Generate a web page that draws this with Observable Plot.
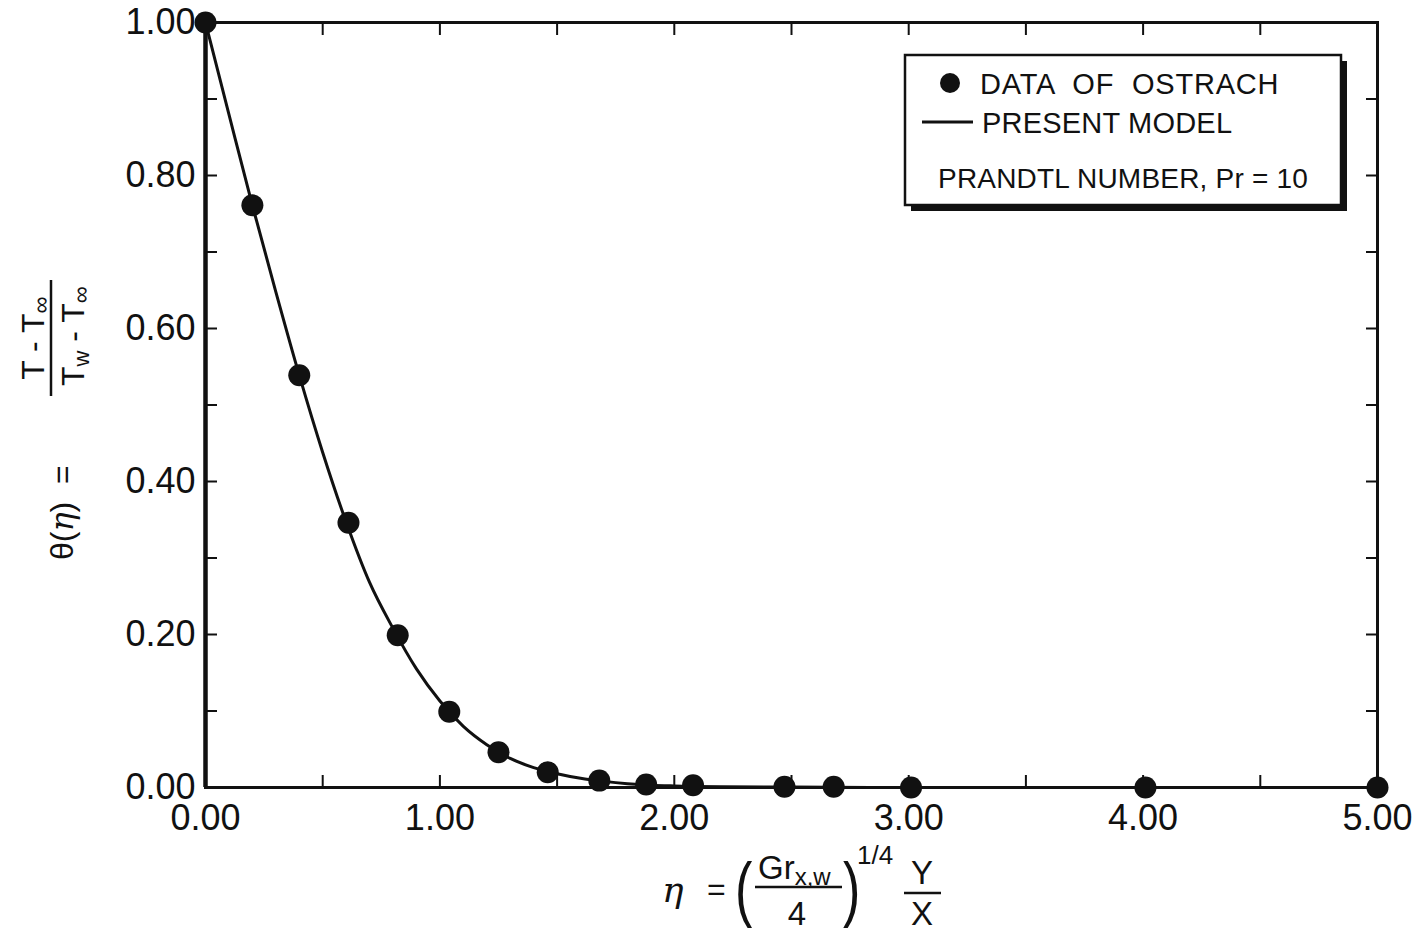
<!DOCTYPE html>
<html>
<head>
<meta charset="utf-8">
<script src="https://cdn.jsdelivr.net/npm/d3@7"></script>
<script src="https://cdn.jsdelivr.net/npm/@observablehq/plot@0.6"></script>
<style>
  html, body { margin: 0; padding: 0; background: #ffffff; }
  #chart { width: 1420px; height: 934px; }
</style>
</head>
<body>
<div id="chart"></div>
<script>
// ---- data ----
const etaData   = [0.00, 0.20, 0.40, 0.61, 0.82, 1.04, 1.25, 1.46, 1.68, 1.88, 2.08, 2.47, 2.68, 3.01, 4.01, 5.00];
const thetaData = [1.000, 0.761, 0.539, 0.346, 0.199, 0.099, 0.046, 0.020, 0.009, 0.004, 0.003, 0.001, 0.001, 0.000, 0.000, 0.000];

const etaModel   = [0.0, 0.1, 0.2, 0.3, 0.4, 0.5, 0.6, 0.7, 0.8, 0.9, 1.0, 1.1, 1.2, 1.3, 1.4, 1.5, 1.6, 1.7, 1.8, 1.9, 2.0, 2.2, 2.5, 3.0, 4.0, 5.0];
const thetaModel = [1.000, 0.880, 0.761, 0.648, 0.539, 0.438, 0.347, 0.268, 0.208, 0.155, 0.113, 0.080, 0.056, 0.038, 0.026, 0.018, 0.012, 0.008, 0.005, 0.003, 0.002, 0.001, 0.0005, 0.0, 0.0, 0.0];

const xLabelTicks = [0, 1, 2, 3, 4, 5];
const xMinorTicks = [0, 0.5, 1, 1.5, 2, 2.5, 3, 3.5, 4, 4.5, 5];
const yLabelTicks = [0, 0.2, 0.4, 0.6, 0.8, 1.0];
const yMinorTicks = [0, 0.1, 0.2, 0.3, 0.4, 0.5, 0.6, 0.7, 0.8, 0.9, 1.0];

const legendLabels = ["DATA  OF  OSTRACH", "PRESENT MODEL", "PRANDTL NUMBER, Pr = 10"];

// ---- build tables ----
const points = etaData.map((x, i) => ({eta: x, theta: thetaData[i]}));
const model = etaModel.map((x, i) => ({eta: x, theta: thetaModel[i]}));
const fmt = d3.format(".2f");
const FONT = "'Liberation Sans', 'DejaVu Sans', sans-serif";

const chart = Plot.plot({
  width: 1420,
  height: 934,
  marginLeft: 205,
  marginRight: 43,
  marginTop: 22,
  marginBottom: 147,
  style: {fontFamily: FONT, fontSize: "36px", background: "#ffffff", color: "#111"},
  x: {domain: [0, 5]},
  y: {domain: [0, 1]},
  marks: [
    // tick labels
    Plot.axisX({ticks: xLabelTicks, tickFormat: fmt, tickSize: 0, tickPadding: 17, label: null, fontSize: 36}),
    Plot.axisY({ticks: yLabelTicks, tickFormat: fmt, tickSize: 0, tickPadding: 10, label: null, fontSize: 36}),
    // inward ticks on all sides
    Plot.axisX({anchor: "bottom", ticks: xMinorTicks, tickSize: -12, text: null, label: null, strokeWidth: 2}),
    Plot.axisX({anchor: "top", ticks: xMinorTicks, tickSize: -12, text: null, label: null, strokeWidth: 2}),
    Plot.axisY({anchor: "left", ticks: yMinorTicks, tickSize: -12, text: null, label: null, strokeWidth: 2}),
    Plot.axisY({anchor: "right", ticks: yMinorTicks, tickSize: -12, text: null, label: null, strokeWidth: 2}),
    Plot.frame({stroke: "#111", strokeWidth: 3}),
    Plot.ruleX([0], {stroke: "#111", strokeWidth: 4.5}),
    // model curve
    Plot.line(model, {x: "eta", y: "theta", curve: "monotone-x", stroke: "#111", strokeWidth: 3}),
    // data of Ostrach
    Plot.dot(points, {x: "eta", y: "theta", r: 11, fill: "#111", stroke: "none"})
  ]
});

document.getElementById("chart").appendChild(chart);

// ---- annotations: legend box and axis titles ----
const svg = d3.select(chart);

// legend
const lg = svg.append("g").attr("font-family", FONT).attr("fill", "#111").attr("text-anchor", "start");
lg.append("rect").attr("x", 911).attr("y", 61).attr("width", 436).attr("height", 150).attr("fill", "#111");
lg.append("rect").attr("x", 905).attr("y", 55).attr("width", 436).attr("height", 150)
  .attr("fill", "#fff").attr("stroke", "#111").attr("stroke-width", 2.5);
lg.append("circle").attr("cx", 950).attr("cy", 83).attr("r", 10).attr("fill", "#111");
lg.append("line").attr("x1", 922).attr("x2", 973).attr("y1", 122).attr("y2", 122)
  .attr("stroke", "#111").attr("stroke-width", 3);
lg.append("text").attr("x", 980).attr("y", 94).attr("font-size", 29).attr("letter-spacing", 0.8)
  .style("white-space", "pre").text(legendLabels[0]);
lg.append("text").attr("x", 982).attr("y", 133).attr("font-size", 29).attr("letter-spacing", 0.2).text(legendLabels[1]);
lg.append("text").attr("x", 938).attr("y", 188).attr("font-size", 28).attr("letter-spacing", 0.2).text(legendLabels[2]);

// x-axis title: eta = (Gr_{x,w}/4)^{1/4} Y/X
const xt = svg.append("g").attr("font-family", FONT).attr("fill", "#111").attr("text-anchor", "start");
xt.append("text").attr("x", 662).attr("y", 902).attr("font-size", 36)
  .attr("font-family", "'DejaVu Serif', serif").attr("font-style", "italic").text("η");
xt.append("text").attr("x", 707).attr("y", 900).attr("font-size", 32).text("=");
xt.append("text").attr("x", 735).attr("y", 0).attr("font-size", 52)
  .attr("transform", "translate(0,913) scale(1,1.4)").text("(");
const gr = xt.append("text").attr("x", 758).attr("y", 879).attr("font-size", 33);
gr.append("tspan").text("Gr");
gr.append("tspan").attr("font-size", 24).attr("dy", 6).text("x,w");
xt.append("line").attr("x1", 755).attr("x2", 842).attr("y1", 887).attr("y2", 887)
  .attr("stroke", "#111").attr("stroke-width", 2.5);
xt.append("text").attr("x", 797).attr("y", 925).attr("font-size", 33).attr("text-anchor", "middle").text("4");
xt.append("text").attr("x", 843).attr("y", 0).attr("font-size", 52)
  .attr("transform", "translate(0,913) scale(1,1.4)").text(")");
xt.append("text").attr("x", 857).attr("y", 864).attr("font-size", 26).text("1/4");
xt.append("text").attr("x", 922).attr("y", 884).attr("font-size", 33).attr("text-anchor", "middle").text("Y");
xt.append("line").attr("x1", 904).attr("x2", 941).attr("y1", 893).attr("y2", 893)
  .attr("stroke", "#111").attr("stroke-width", 2.5);
xt.append("text").attr("x", 922).attr("y", 925).attr("font-size", 33).attr("text-anchor", "middle").text("X");

// y-axis title: theta(eta) = (T - T_inf)/(T_w - T_inf), rotated
const yt = svg.append("g").attr("font-family", FONT).attr("fill", "#111").attr("text-anchor", "start")
  .attr("transform", "translate(60,420) rotate(-90)");
const th = yt.append("text").attr("x", -140).attr("y", 13).attr("font-size", 32);
th.append("tspan").text("θ(");
th.append("tspan").attr("font-family", "'DejaVu Serif', serif").attr("font-style", "italic").text("η");
th.append("tspan").text(")  =");
const num = yt.append("text").attr("x", 82).attr("y", -16).attr("font-size", 32).attr("text-anchor", "middle");
num.append("tspan").text("T - T");
num.append("tspan").attr("font-size", 24).attr("dy", 5).text("∞");
yt.append("line").attr("x1", 24).attr("x2", 140).attr("y1", -9).attr("y2", -9)
  .attr("stroke", "#111").attr("stroke-width", 2.5);
const den = yt.append("text").attr("x", 84).attr("y", 24).attr("font-size", 32).attr("text-anchor", "middle");
den.append("tspan").text("T");
den.append("tspan").attr("font-size", 22).attr("dy", 5).text("w");
den.append("tspan").attr("dy", -5).text(" - T");
den.append("tspan").attr("font-size", 24).attr("dy", 5).text("∞");
</script>
</body>
</html>
